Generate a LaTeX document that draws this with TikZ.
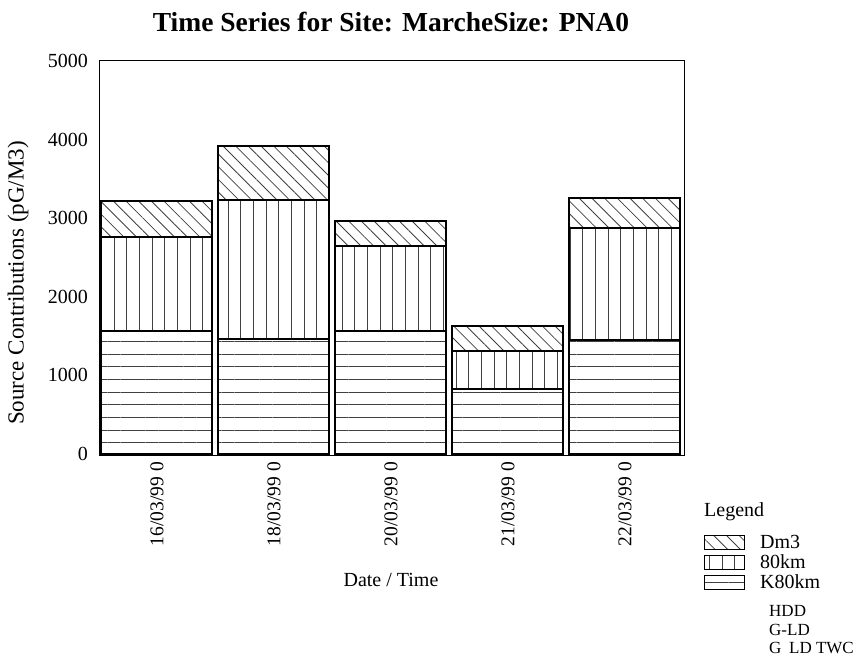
\documentclass[tikz,border=0pt]{standalone}
\usepackage{fontspec}
\setmainfont{Liberation Serif}
\usetikzlibrary{patterns.meta}

\tikzset{
  dmpat/.style={pattern={Lines[angle=-45,distance=8.96pt,line width=0.8pt]},pattern color=black!75},
  vkpat/.style={pattern={Lines[angle=90,distance=12.67pt,line width=0.8pt]},pattern color=black!75},
  hkpat/.style={pattern={Lines[angle=0,distance=12.67pt,line width=0.8pt]},pattern color=black!75},
  barbox/.style={draw,line width=1.1pt},
  lbl/.style={font=\fontsize{20}{24}\selectfont,inner sep=0pt},
  small/.style={font=\fontsize{17}{20}\selectfont,inner sep=0pt,anchor=west},
}

\begin{document}
\begin{tikzpicture}[x=1pt,y=-1pt]
	\useasboundingbox (0,0) rectangle (857,658);
	\node[font=\fontsize{27.5}{32}\selectfont\bfseries] (title) at (391,22) {Time Series for Site: MarcheSize: PNA0};

	% frame and axis
	\draw[line width=1pt] (99,61) rectangle (684,455);
	\foreach \v in {0,1000,...,5000}
		\node[lbl,anchor=east] (tick\v) at (88,{454-\v*0.0786}) {\v};
	\node[font=\fontsize{23}{27}\selectfont,inner sep=0pt,rotate=90] (ylab) at (18,283) {Source Contributions (pG/M3)};

	% stacked bars: day / K80km / 80km / Dm3
	\foreach \i/\d/\a/\b/\c in {0/16/1565/2761/3219,1/18/1463/3232/3919,2/20/1565/2646/2964,3/21/827/1310/1628,4/22/1450/2875/3257}{
		\draw[barbox,hkpat] ({101+117*\i},454) rectangle ({212+117*\i},{454-\a*0.0786});
		\draw[barbox,vkpat] ({101+117*\i},{454-\a*0.0786}) rectangle ({212+117*\i},{454-\b*0.0786});
		\draw[barbox,dmpat] ({101+117*\i},{454-\b*0.0786}) rectangle ({212+117*\i},{454-\c*0.0786});
		\node[font=\fontsize{19.5}{23}\selectfont,inner sep=0pt,rotate=90,anchor=east] (date\i) at ({157+117*\i},462) {\d/03/99 0};
	}
	\node[lbl] (xlab) at (391,580) {Date / Time};

	% legend
	\node[lbl,anchor=west] (leg) at (704,512) {Legend};
	\draw[line width=1pt,dmpat] (704,535) rectangle (744,549);
	\draw[line width=1pt,vkpat] (704,555) rectangle (744,569);
	\draw[line width=1pt,hkpat] (704,575) rectangle (744,589);
	\node[lbl,anchor=west] (dm) at (760,542) {Dm3};
	\node[lbl,anchor=west] (km) at (760,562) {80km};
	\node[lbl,anchor=west] (kkm) at (760,582) {K80km};
	\node[small] (hdd) at (769,611) {HDD};
	\node[small] (gld) at (769,630) {G-LD};
	\node[small] (gtwc) at (769,648) {G\hspace{0.45em}LD TWC};
\end{tikzpicture}
\end{document}
